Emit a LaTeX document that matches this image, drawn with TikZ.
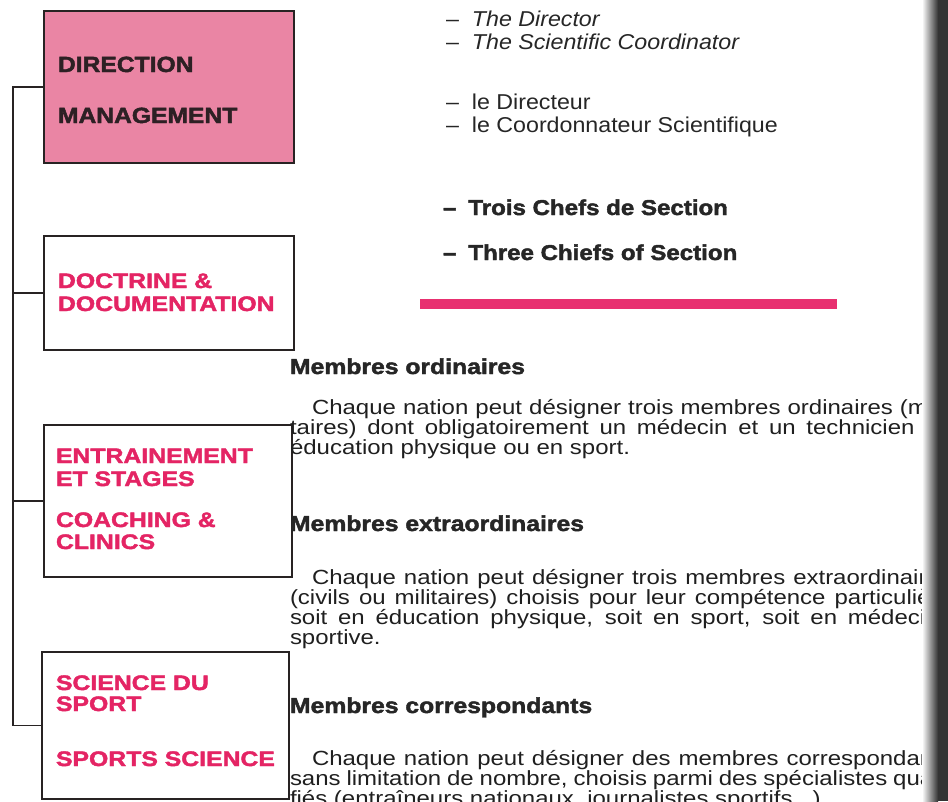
\documentclass[tikz,border=0pt]{standalone}
\usepackage{fontspec}
\setmainfont{Liberation Sans}
\newfontfamily\heavyfnt[FakeStretch=1.12,FakeBold=2]{Liberation Sans}
\newfontfamily\pinkfnt[FakeStretch=1.18,FakeBold=2]{Liberation Sans}
\newfontfamily\headfnt[FakeStretch=1.15,FakeBold=2]{Liberation Sans}
\newfontfamily\txtfnt[FakeStretch=1.17]{Liberation Sans}
\newfontfamily\topfnt[FakeStretch=1.08]{Liberation Sans}
\definecolor{boxpink}{RGB}{234,133,164}
\definecolor{hotpink}{RGB}{228,36,100}
\definecolor{barpink}{RGB}{232,48,112}
\definecolor{inkdark}{RGB}{45,32,36}
\definecolor{linedark}{RGB}{40,35,35}
\tikzset{
  secbox/.style={draw=linedark, line width=1.8pt, anchor=north west, inner sep=0pt},
  conn/.style={draw=linedark, line width=1.8pt},
  lbl/.style={anchor=base west, inner sep=0pt, outer sep=0pt},
  boxdark/.style={lbl, text=inkdark, font=\heavyfnt\bfseries\fontsize{22}{23}\selectfont},
  boxpinktxt/.style={lbl, text=hotpink, font=\pinkfnt\bfseries\fontsize{21}{23}\selectfont},
  toptxt/.style={lbl, text=black!85, font=\topfnt\fontsize{21.5}{23}\selectfont},
  topbold/.style={lbl, text=black!85, font=\heavyfnt\bfseries\fontsize{21.5}{23}\selectfont},
  headtxt/.style={lbl, text=black!85, font=\headfnt\bfseries\fontsize{21.5}{22}\selectfont},
  bodytxt/.style={lbl, text=black!88, font=\txtfnt\fontsize{20.5}{20}\selectfont}
}
\newcommand{\jline}[2]{\hbox to #1pt{#2}}
\begin{document}
\begin{tikzpicture}[x=1pt,y=-1pt]
\clip (0,0) rectangle (948,801);
\fill[white] (0,0) rectangle (948,801);
% boxes
\node[secbox, fill=boxpink, minimum width=250pt, minimum height=152pt] (b1) at (43,10) {};
\node[secbox, minimum width=250pt, minimum height=114pt] (b2) at (43,235) {};
\node[secbox, minimum width=248pt, minimum height=152pt] (b3) at (43,424) {};
\node[secbox, minimum width=247pt, minimum height=147pt] (b4) at (41,651) {};
% connectors
\coordinate (trunk) at (13,0);
\draw[conn] (b1.west) -- (b1.west -| trunk) -- (b4.west -| trunk) -- (b4.west);
\draw[conn] (b2.west) -- (b2.west -| trunk);
\draw[conn] (b3.west) -- (b3.west -| trunk);
% box texts
\node[boxdark] (d1) at (58,72) {DIRECTION};
\node[boxdark] (d2) at (58,123) {MANAGEMENT};
\node[boxpinktxt] (p1) at (58,288) {DOCTRINE \&};
\node[boxpinktxt] (p2) at (58,311) {DOCUMENTATION};
\node[boxpinktxt] (p3) at (56,463) {ENTRAINEMENT};
\node[boxpinktxt] (p4) at (56,486) {ET STAGES};
\node[boxpinktxt] (p5) at (56,527) {COACHING \&};
\node[boxpinktxt] (p6) at (56,549) {CLINICS};
\node[boxpinktxt] (p7) at (56,690) {SCIENCE DU};
\node[boxpinktxt] (p8) at (56,711) {SPORT};
\node[boxpinktxt] (p9) at (56,766) {SPORTS SCIENCE};
% top right texts
\node[toptxt] (t1) at (446,26) {–\hskip13pt\itshape The Director};
\node[toptxt] (t2) at (446,49) {–\hskip13pt\itshape The Scientific Coordinator};
\node[toptxt] (t3) at (446,109) {–\hskip13pt le Directeur};
\node[toptxt] (t4) at (446,132) {–\hskip13pt le Coordonnateur Scientifique};
\node[topbold] (t5) at (443,215) {–\hskip12pt Trois Chefs de Section};
\node[topbold] (t6) at (443,260) {–\hskip12pt Three Chiefs of Section};
% bar
\fill[barpink] (420,299) rectangle (837,309);
% body
\node[headtxt] (h1) at (290,374) {Membres ordinaires};
\node[bodytxt] (a1) at (312,414) {\jline{640}{Chaque nation peut désigner trois membres ordinaires (mili-}};
\node[bodytxt] (a2) at (290,434) {\jline{662}{taires) dont obligatoirement un médecin et un technicien en}};
\node[bodytxt] (a3) at (290,454) {éducation physique ou en sport.};
\node[headtxt] (h2) at (290,531) {Membres extraordinaires};
\node[bodytxt] (e1) at (312,584) {\jline{640}{Chaque nation peut désigner trois membres extraordinaires}};
\node[bodytxt] (e2) at (290,604) {\jline{662}{(civils ou militaires) choisis pour leur compétence particulière}};
\node[bodytxt] (e3) at (290,624) {\jline{662}{soit en éducation physique, soit en sport, soit en médecine}};
\node[bodytxt] (e4) at (290,644) {sportive.};
\node[headtxt] (h3) at (290,713) {Membres correspondants};
\node[bodytxt] (c1) at (312,765) {\jline{640}{Chaque nation peut désigner des membres correspondants}};
\node[bodytxt] (c2) at (290,785) {\jline{662}{sans limitation de nombre, choisis parmi des spécialistes quali-}};
\node[bodytxt] (c3) at (290,805) {fiés (entraîneurs nationaux, journalistes sportifs...)};
% binding shadow at right edge
\shade[left color=white, right color=black!80] (922,0) rectangle (938,801);
\fill[black!80] (938,0) rectangle (948,801);
\end{tikzpicture}
\end{document}
